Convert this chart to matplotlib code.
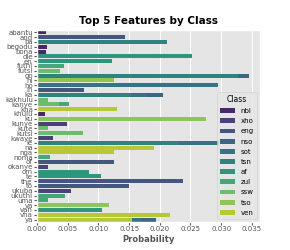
import matplotlib
matplotlib.use('Agg')
import matplotlib.pyplot as plt
import seaborn as sns
import pandas as pd

plt.style.use('ggplot')

classes = ['nbl', 'xho', 'eng', 'nso', 'sot', 'tsn', 'af', 'zul', 'ssw', 'tso', 'ven']

# top 5 words per class and their probabilities
nbl_words = ['abantu', 'begodu', 'bona', 'khulu', 'kanye']
nbl_probs = [0.00146, 0.00157, 0.00146, 0.00135, 0.0012]
xho_words = ['kunye', 'kwaye', 'okanye', 'ukuba', 'kakhulu']
xho_probs = [0.00482, 0.00265, 0.00173, 0.00553, 0.0015]
eng_words = ['the', 'to', 'and', 'of', 'in']
eng_probs = [0.02373, 0.01495, 0.01436, 0.01257, 0.00764]
nso_words = ['go', 'ka', 'le', 'ya', 'ba']
nso_probs = [0.0346, 0.0206, 0.0200, 0.0194, 0.0150]
sot_words = ['ho', 'le', 'ka', 'ya', 'ba']
sot_probs = [0.0295, 0.0296, 0.0180, 0.0170, 0.0140]
tsn_words = ['go', 'le', 'ba', 'ka', 'ya']
tsn_probs = [0.0327, 0.0231, 0.0212, 0.0153, 0.0120]
af_words = ['die', 'en', 'van', 'te', 'om']
af_probs = [0.0253, 0.01219, 0.01051, 0.0104, 0.00845]
zul_words = ['kanye', 'ukuthi', 'futhi', 'noma', 'uma']
zul_probs = [0.0052, 0.00455, 0.00439, 0.00217, 0.00173]
ssw_words = ['kutsi', 'futsi', 'kanye', 'kute', 'kakhulu']
ssw_probs = [0.00753, 0.00374, 0.00358, 0.00184, 0.00173]
tso_words = ['ku', 'hi', 'va', 'na', 'ya']
tso_probs = [0.02757, 0.01262, 0.01181, 0.0150, 0.0100]
ven_words = ['vha', 'na', 'ya', 'kha', 'nga']
ven_probs = [0.02172, 0.01901, 0.01544, 0.0131, 0.01262]

words = [nbl_words, xho_words, eng_words, nso_words, sot_words, tsn_words,
         af_words, zul_words, ssw_words, tso_words, ven_words]
probs = [nbl_probs, xho_probs, eng_probs, nso_probs, sot_probs, tsn_probs,
         af_probs, zul_probs, ssw_probs, tso_probs, ven_probs]

rows = []
for c, ws, ps in zip(classes, words, probs):
    for w, p in zip(ws, ps):
        rows.append({'Feature': w, 'Probability': p, 'Class': c})
df = pd.DataFrame(rows)
order = sorted(df['Feature'].unique())

fig = plt.figure(figsize=(2.9, 2.5), dpi=100)
ax = fig.add_axes([0.1276, 0.112, 0.769, 0.768])
sns.barplot(data=df, x='Probability', y='Feature', hue='Class', order=order,
            hue_order=classes, palette='viridis', dodge=False, ax=ax)

ax.set_title('Top 5 Features by Class', fontsize=7.5, fontweight='bold', pad=4)
ax.set_xlabel('Probability', fontsize=6, fontweight='bold', color='#555555', labelpad=2)
ax.set_ylabel('')
ax.tick_params(axis='both', labelsize=5, pad=1, length=2)
ax.grid(axis='y', visible=False)
ax.grid(axis='x', color='white', linewidth=0.8)
ax.set_xticks([0, 0.005, 0.01, 0.015, 0.02, 0.025, 0.03, 0.035])

leg = ax.legend(title='Class', loc='lower right', fontsize=5, title_fontsize=5.5,
                frameon=True, handlelength=2.2, labelspacing=0.6)
leg.get_frame().set_facecolor('#e5e5e5')
leg.get_frame().set_edgecolor('#cccccc')

fig.savefig('out.png', dpi=100)
